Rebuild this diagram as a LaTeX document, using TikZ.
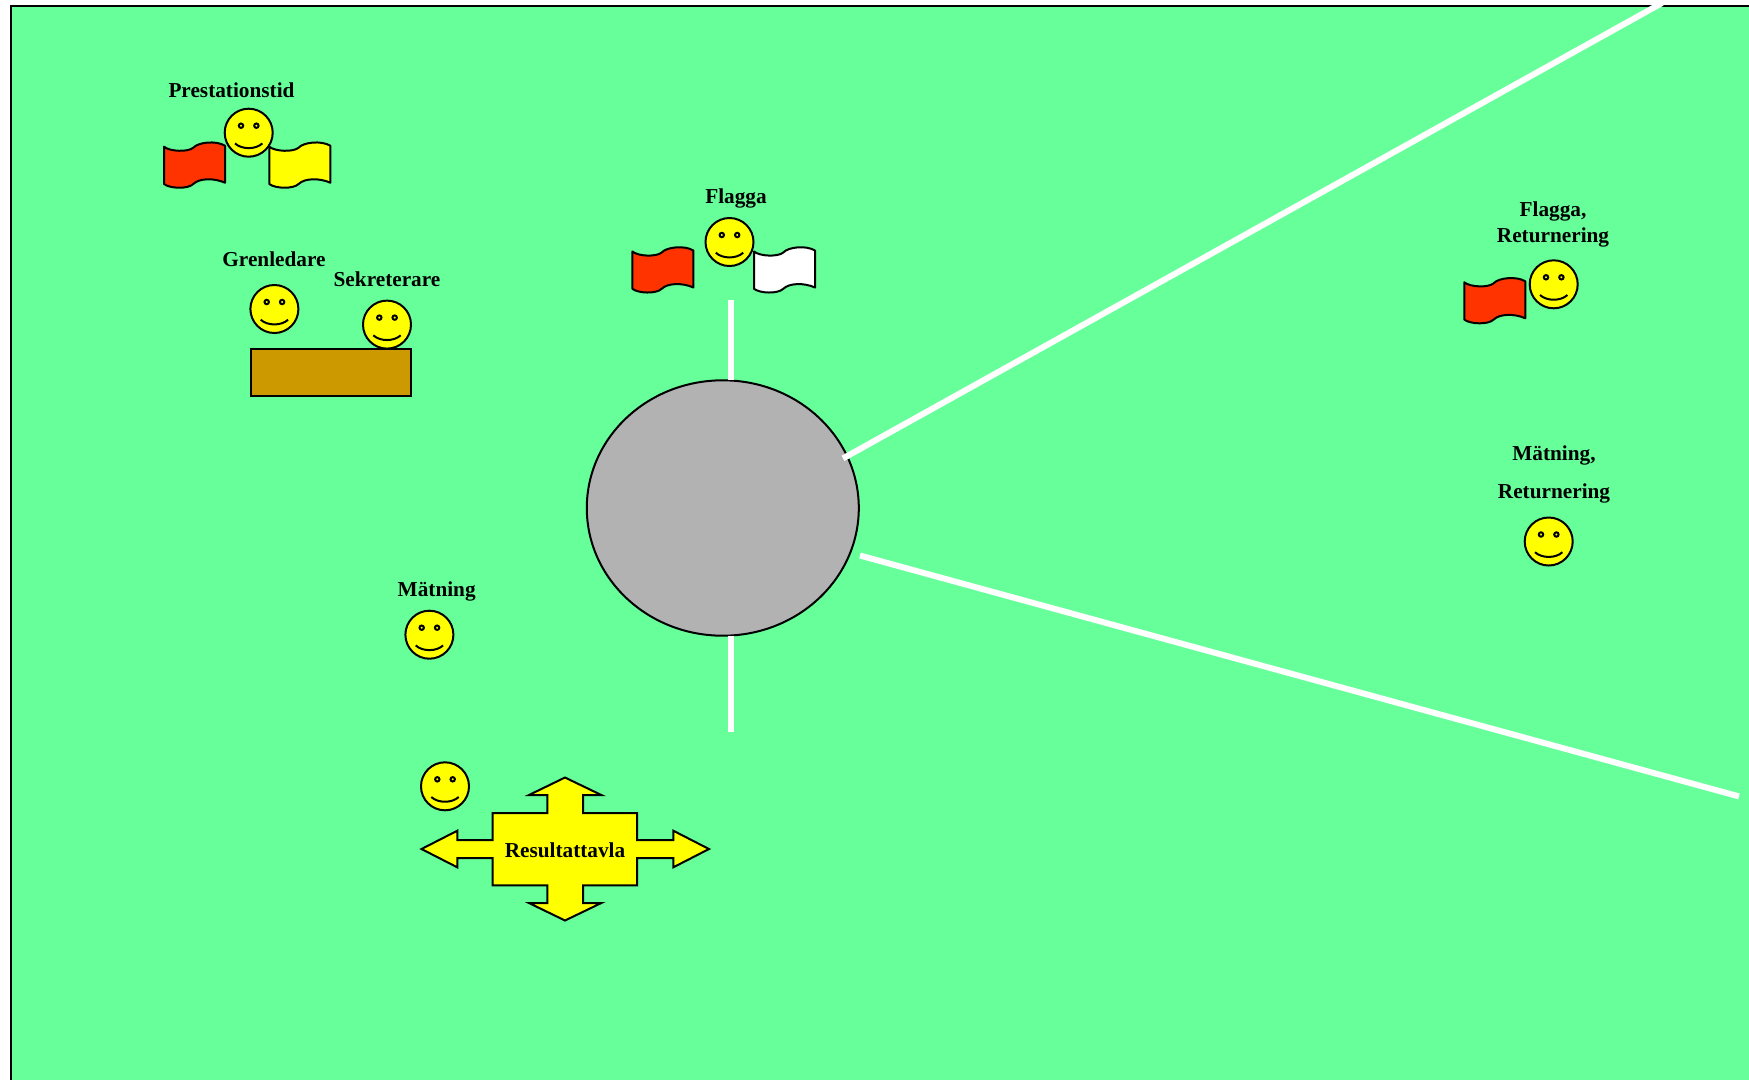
\documentclass[tikz,border=0pt]{standalone}
\usepackage{fontspec}
\setmainfont{Liberation Serif}
\usepackage{xcolor}
\definecolor{plan}{HTML}{66FF99}
\definecolor{flagred}{HTML}{FF3300}
\definecolor{flagyellow}{HTML}{FFFF00}
\definecolor{table}{HTML}{CC9900}
\definecolor{ring}{HTML}{B2B2B2}
\tikzset{
	role/.style={font=\fontsize{6.05}{7.4}\selectfont\bfseries,align=center,inner sep=0pt},
	sector/.style={draw=white,line width=0.6mm},
	outline/.style={draw=black,line width=0.2mm},
	pics/smiley/.style={code={
		\draw[outline,fill=flagyellow] (0,0) circle[radius=0.24];
		\draw[outline] (-0.077,-0.07) circle[radius=0.022] (0.077,-0.07) circle[radius=0.022];
		\draw[outline] (-0.137,0.107) .. controls (-0.07,0.17) and (0.07,0.17) .. (0.137,0.107);
	}},
	pics/flagshape/.style={code={
		\draw[outline,fill=#1,line join=round] (0,0.05) .. controls (0.06,0.10) and (0.24,0.105) .. (0.293,0.06)
			.. controls (0.34,0.005) and (0.52,-0.015) .. (0.61,0.04) -- (0.61,0.41)
			.. controls (0.5,0.36) and (0.35,0.365) .. (0.293,0.423)
			.. controls (0.24,0.475) and (0.06,0.47) .. (0,0.423) -- cycle;
	}}
}
\begin{document}
\begin{tikzpicture}[y=-1cm]
	\useasboundingbox (0,0) rectangle (17.49,10.79);
	\clip (0,0) rectangle (17.49,10.79);
	\draw[outline,fill=plan] (0.11,0.055) rectangle (17.8,11.2); %field
	\draw[outline,fill=ring] (7.228,5.08) ellipse[x radius=1.36,y radius=1.277];
	% throwing sector
	\draw[sector] (8.43,4.584) -- (16.62,0.03);
	\draw[sector] (8.60,5.555) -- (17.39,7.964);
	\draw[sector] (7.306,3.00) -- (7.306,3.80);
	\draw[sector] (7.306,6.36) -- (7.306,7.317);
	% table
	\draw[outline,fill=table] (2.51,3.485) rectangle (4.105,3.96);
	% result board
	\draw[outline,fill=flagyellow] (4.927,8.13) -- (5.473,8.13) -- (5.473,7.95) -- (5.29,7.95) -- (5.65,7.775)
		-- (6.013,7.95) -- (5.83,7.95) -- (5.83,8.13) -- (6.37,8.13) -- (6.37,8.40) -- (6.733,8.40)
		-- (6.733,8.307) -- (7.09,8.49) -- (6.733,8.673) -- (6.733,8.58) -- (6.37,8.58) -- (6.37,8.853)
		-- (5.83,8.853) -- (5.83,9.03) -- (6.013,9.03) -- (5.65,9.205) -- (5.29,9.03) -- (5.473,9.03)
		-- (5.473,8.853) -- (4.927,8.853) -- (4.927,8.58) -- (4.573,8.58) -- (4.573,8.673) -- (4.215,8.49)
		-- (4.573,8.307) -- (4.573,8.40) -- (4.927,8.40) -- cycle;
	\node[role] (board) at (5.65,8.50) {Resultattavla};
	% flags
	\pic at (1.64,1.417) {flagshape=flagred};
	\pic at (2.693,1.417) {flagshape=flagyellow};
	\pic at (6.324,2.465) {flagshape=flagred};
	\pic at (7.54,2.465) {flagshape=white};
	\pic at (14.643,2.773) {flagshape=flagred};
	% persons
	\pic at (2.487,1.327) {smiley};
	\pic at (7.295,2.42) {smiley};
	\pic at (2.744,3.09) {smiley};
	\pic at (3.87,3.246) {smiley};
	\pic at (4.294,6.347) {smiley};
	\pic at (4.45,7.863) {smiley};
	\pic at (15.537,2.843) {smiley};
	\pic at (15.487,5.415) {smiley};
	% roles
	\node[role] (prestation) at (2.315,0.90) {Prestationstid};
	\node[role] (flagga) at (7.36,1.98) {Flagga};
	\node[role] (grenledare) at (2.74,2.59) {Grenledare};
	\node[role] (sekreterare) at (3.87,2.79) {Sekreterare};
	\node[role] (flaggaret) at (15.53,2.24) {Flagga,\\Returnering};
	\node[role] (matningret) at (15.54,4.742) {Mätning,\\[3.4pt]Returnering};
	\node[role] (matning) at (4.367,5.912) {Mätning};
\end{tikzpicture}
\end{document}
